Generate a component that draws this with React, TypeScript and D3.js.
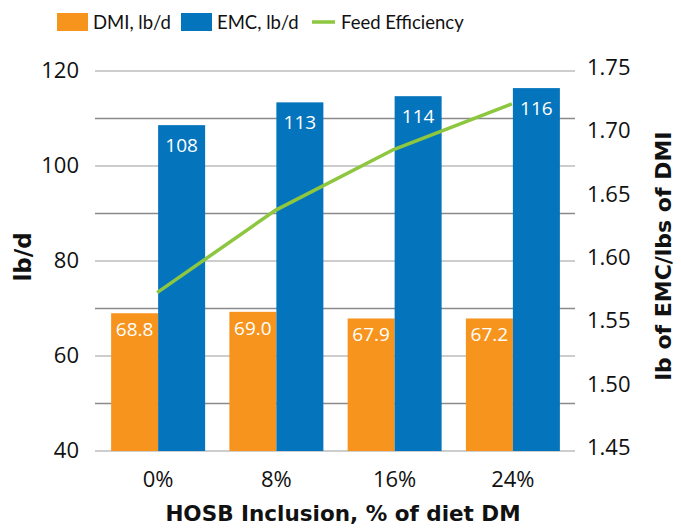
import React from "react";
import * as d3 from "d3";

const categories = ["0%", "8%", "16%", "24%"];
const dmiValues = [69.0, 69.3, 67.9, 67.9];
const dmiLabels = ["68.8", "69.0", "67.9", "67.2"];
const emcValues = [108.6, 113.4, 114.7, 116.4];
const emcLabels = ["108", "113", "114", "116"];
const feedEfficiency = [1.575, 1.640, 1.688, 1.724];
const leftTicks = [40, 60, 80, 100, 120];
const gridTicks = [40, 50, 60, 70, 80, 90, 100, 110, 120];
const rightTicks = [1.45, 1.5, 1.55, 1.6, 1.65, 1.7, 1.75];

const ORANGE = "#F7941D";
const BLUE = "#0474BC";
const GREEN = "#8DC63F";
const FONT = "'Open Sans', sans-serif";
const TITLE_FONT = "'DejaVu Sans', sans-serif";
const LEGEND_FONT = "Lato, sans-serif";

export default function App() {
  const W = 681, H = 528;
  const plotTop = 71, plotBottom = 451;
  const x = d3.scaleBand<string>().domain(categories).range([99, 572]).paddingInner(0.2).paddingOuter(0.1);
  const yL = d3.scaleLinear().domain([40, 120]).range([plotBottom, plotTop]);
  const yR = d3.scaleLinear().domain([1.45, 1.75]).range([plotBottom, plotTop]);
  const barW = 47;
  const center = (c: string) => (x(c) as number) + x.bandwidth() / 2;
  const line = d3.line<number>()
    .x((_, i) => center(categories[i]) - 1)
    .y((d) => yR(d));

  return (
    <svg width={W} height={H} style={{ position: "absolute", left: 0, top: 0, background: "#fff" }} fontFamily={FONT}>
      {gridTicks.map((t, i) => (
        <line key={t} x1={95} x2={575} y1={yL(t)} y2={yL(t)} stroke={i % 2 === 0 ? "#bdbdbd" : "#8a8a8a"} strokeWidth={1.3} />
      ))}
      {categories.map((c, i) => {
        const cx = center(c);
        return (
          <g key={c}>
            <rect x={cx - barW} y={yL(dmiValues[i])} width={barW} height={plotBottom - yL(dmiValues[i])} fill={ORANGE} />
            <rect x={cx} y={yL(emcValues[i])} width={barW} height={plotBottom - yL(emcValues[i])} fill={BLUE} />
            <text x={cx - barW / 2} y={yL(dmiValues[i]) + 23} textAnchor="middle" fill="#fff" fontSize={19}>{dmiLabels[i]}</text>
            <text x={cx + barW / 2} y={yL(emcValues[i]) + 27} textAnchor="middle" fill="#fff" fontSize={19}>{emcLabels[i]}</text>
            <text x={cx} y={487} textAnchor="middle" fill="#111" fontSize={22}>{c}</text>
          </g>
        );
      })}
      <path d={line(feedEfficiency) as string} fill="none" stroke={GREEN} strokeWidth={3.5} />
      {leftTicks.map((t) => (
        <text key={t} x={79} y={yL(t) + 7} textAnchor="end" fill="#111" fontSize={22}>{t}</text>
      ))}
      {rightTicks.map((t) => (
        <text key={t} x={587} y={yR(t) + 4} textAnchor="start" fill="#111" fontSize={22}>{t.toFixed(2)}</text>
      ))}
      <text transform={`translate(31,257) rotate(-90)`} textAnchor="middle" fill="#111" fontSize={23} fontWeight="bold" fontFamily={TITLE_FONT}>lb/d</text>
      <text transform={`translate(671,256) rotate(-90)`} textAnchor="middle" fill="#111" fontSize={22} fontWeight="bold" fontFamily={TITLE_FONT}>lb of EMC/lbs of DMI</text>
      <text x={343} y={521} textAnchor="middle" fill="#111" fontSize={21.5} fontWeight="bold" fontFamily={TITLE_FONT}>HOSB Inclusion, % of diet DM</text>
      <g fontFamily={LEGEND_FONT} fontSize={18.5} fill="#111">
        <rect x={57} y={13} width={31} height={18} fill={ORANGE} />
        <text x={93} y={29}>DMI, lb/d</text>
        <rect x={181} y={13} width={31} height={18} fill={BLUE} />
        <text x={217} y={29}>EMC, lb/d</text>
        <line x1={312} x2={335} y1={22} y2={22} stroke={GREEN} strokeWidth={3.5} />
        <text x={341} y={29}>Feed Efficiency</text>
      </g>
    </svg>
  );
}
